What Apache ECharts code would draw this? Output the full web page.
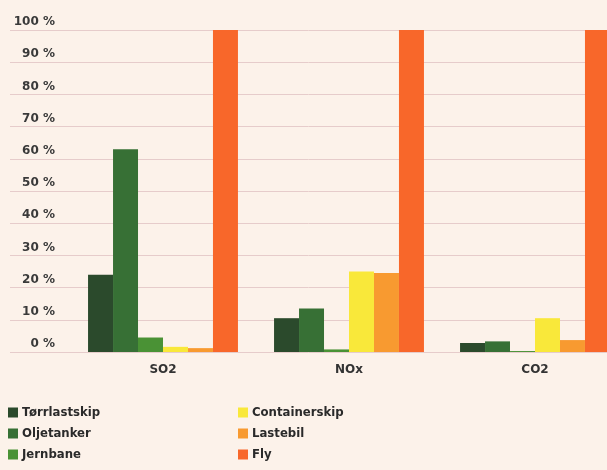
<!DOCTYPE html>
<html><head><meta charset="utf-8">
<script src="https://cdn.jsdelivr.net/npm/echarts@6/dist/echarts.min.js"></script>
<style>html,body{margin:0;padding:0;background:#fcf2ea;}#c{width:607px;height:470px;}</style>
</head><body><div id="c"></div>
<script>
const categories = ['SO2', 'NOx', 'CO2'];
const seriesNames = ['Tørrlastskip', 'Oljetanker', 'Jernbane', 'Containerskip', 'Lastebil', 'Fly'];
const torrlastskip = [24, 10.5, 2.8];
const oljetanker = [63, 13.5, 3.3];
const jernbane = [4.5, 0.8, 0.3];
const containerskip = [1.6, 25, 10.5];
const lastebil = [1.2, 24.5, 3.7];
const fly = [100, 100, 100];
const yTicks = [0, 10, 20, 30, 40, 50, 60, 70, 80, 90, 100];

const values = [torrlastskip, oljetanker, jernbane, containerskip, lastebil, fly];
const colors = ['#2b4a2c', '#377035', '#4a9235', '#f9e83a', '#f89a30', '#f8672a'];
const font = '"DejaVu Sans Condensed", "Liberation Sans Narrow", sans-serif';
const axisFont = '"DejaVu Sans", sans-serif';

const chart = echarts.init(document.getElementById('c'), null, {renderer: 'canvas'});
chart.setOption({
  backgroundColor: '#fcf2ea',
  animation: false,
  grid: [
    {left: 70, width: 558, top: 30, bottom: 118, outerBoundsMode: 'none', containLabel: false},
    {left: 10, right: 0, top: 30, bottom: 118, z: 0, outerBoundsMode: 'none', containLabel: false}
  ],
  xAxis: [
    {type: 'category', data: categories, gridIndex: 0,
     axisLine: {show: false}, axisTick: {show: false},
     axisLabel: {margin: 12, fontSize: 12, fontWeight: 'bold', color: '#333', fontFamily: axisFont}},
    {type: 'category', data: categories, gridIndex: 1, show: false}
  ],
  yAxis: [
    {type: 'value', gridIndex: 0, min: yTicks[0], max: yTicks[yTicks.length - 1], interval: 10,
     splitLine: {show: false}, axisLine: {show: false}, axisTick: {show: false},
     axisLabel: {formatter: '{value} %', margin: 15, fontSize: 12, fontWeight: 'bold', color: '#3a3a3a',
       fontFamily: axisFont, verticalAlign: 'bottom', padding: [0, 0, 2, 0]}},
    {type: 'value', gridIndex: 1, min: yTicks[0], max: yTicks[yTicks.length - 1], interval: 10,
     axisLabel: {show: false}, axisLine: {show: false}, axisTick: {show: false},
     splitLine: {show: true, lineStyle: {color: '#e6cccb', width: 1}}}
  ],
  legend: [
    {data: seriesNames.slice(0, 3), orient: 'vertical', left: 8, top: 406, padding: 0, itemWidth: 10, itemHeight: 10,
     itemGap: 8, icon: 'rect', textStyle: {fontSize: 13, fontWeight: 'bold', color: '#2a2a2a', fontFamily: font, padding: [0, 0, 0, -1]}},
    {data: seriesNames.slice(3), orient: 'vertical', left: 238, top: 406, padding: 0, itemWidth: 10, itemHeight: 10,
     itemGap: 8, icon: 'rect', textStyle: {fontSize: 13, fontWeight: 'bold', color: '#2a2a2a', fontFamily: font, padding: [0, 0, 0, -1]}}
  ],
  series: seriesNames.map((name, i) => ({
    name: name, type: 'bar', xAxisIndex: 0, yAxisIndex: 0, data: values[i],
    barGap: '0%', barCategoryGap: '19.4%',
    itemStyle: {color: colors[i]}, z: 3
  }))
});
</script></body></html>
